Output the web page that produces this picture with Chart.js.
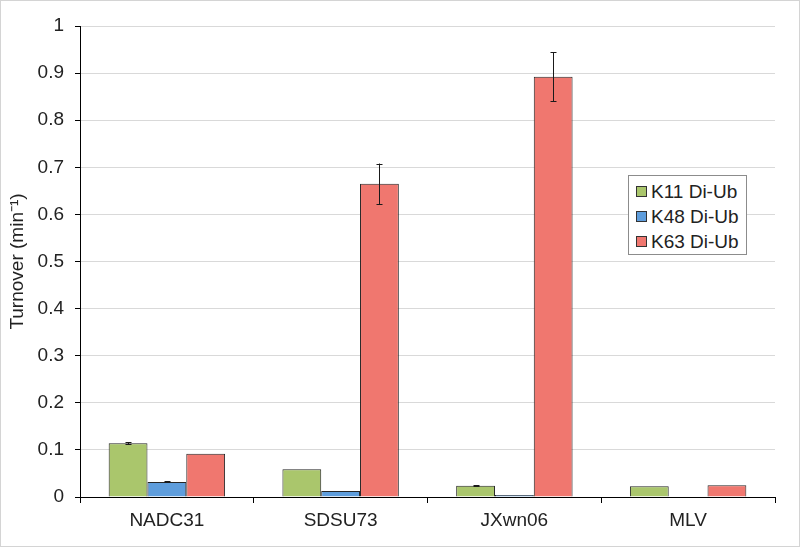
<!DOCTYPE html>
<html>
<head>
<meta charset="utf-8">
<script src="https://cdn.jsdelivr.net/npm/chart.js@4.4.1/dist/chart.umd.min.js"></script>
<style>
  html, body { margin: 0; padding: 0; background: #fff; }
  #wrap { position: relative; width: 800px; height: 547px; }
  #frame { position: absolute; left: 0; top: 0; width: 800px; height: 547px; box-sizing: border-box; border: 1px solid #d4d4d4; pointer-events: none; }
  #legend { position: absolute; left: 628px; top: 175px; width: 119px; height: 80px; box-sizing: border-box; border: 1px solid #8c8c8c; background: #fff; font-family: "Liberation Sans", Arial, sans-serif; font-size: 19px; color: #222; padding-top: 3px; }
  .item { display: flex; align-items: center; height: 25px; padding-left: 7px; }
  .sw { width: 9px; height: 9px; border: 1px solid #333; margin-right: 4px; }
</style>
</head>
<body>
<div id="wrap">
  <canvas id="c" width="800" height="547"></canvas>
  <div id="legend"></div>
  <div id="frame"></div>
</div>
<script>
const categories = ["NADC31", "SDSU73", "JXwn06", "MLV"];
const seriesNames = ["K11 Di-Ub", "K48 Di-Ub", "K63 Di-Ub"];
const k11 = [0.114, 0.059, 0.024, 0.023];
const k48 = [0.032, 0.013, 0.004, 0];
const k63 = [0.092, 0.665, 0.892, 0.025];
const k11Err = [0.002, 0, 0.001, 0];
const k48Err = [0.001, 0, 0, 0];
const k63Err = [0, 0.043, 0.052, 0];
const yTicks = [0, 0.1, 0.2, 0.3, 0.4, 0.5, 0.6, 0.7, 0.8, 0.9, 1];

const colors = ["#aac66c", "#5e9ddc", "#f0776f"];
const values = [k11, k48, k63];
const errors = [k11Err, k48Err, k63Err];

const errorBarPlugin = {
  id: "errorBars",
  afterDatasetsDraw(chart) {
    const ctx = chart.ctx;
    const y = chart.scales.y;
    ctx.save();
    ctx.strokeStyle = "#1a1a1a";
    ctx.lineWidth = 1;
    chart.data.datasets.forEach((ds, di) => {
      const meta = chart.getDatasetMeta(di);
      meta.data.forEach((bar, i) => {
        const e = errors[di][i];
        if (!e) return;
        const v = ds.data[i];
        const x = Math.round(bar.x) + 0.5;
        const yTop = y.getPixelForValue(v + e);
        const yBot = y.getPixelForValue(v - e);
        ctx.beginPath();
        ctx.moveTo(x, yTop); ctx.lineTo(x, yBot);
        ctx.moveTo(x - 3, Math.round(yTop) + 0.5); ctx.lineTo(x + 3, Math.round(yTop) + 0.5);
        ctx.moveTo(x - 3, Math.round(yBot) + 0.5); ctx.lineTo(x + 3, Math.round(yBot) + 0.5);
        ctx.stroke();
      });
    });
    ctx.restore();
  }
};

const font = { family: "'Liberation Sans', Arial, sans-serif", size: 19 };

new Chart(document.getElementById("c"), {
  type: "bar",
  data: {
    labels: categories,
    datasets: seriesNames.map((n, i) => ({
      label: n,
      data: values[i],
      backgroundColor: colors[i],
      borderColor: "#262626",
      borderWidth: 1,
      categoryPercentage: 0.67,
      barPercentage: 1.0
    }))
  },
  options: {
    responsive: false,
    animation: false,
    layout: { padding: { left: 0, right: 25, top: 26, bottom: 0 } },
    plugins: { legend: { display: false }, tooltip: { enabled: false } },
    scales: {
      x: {
        grid: { offset: true, drawOnChartArea: false, drawTicks: true, tickLength: 6, color: "#000", tickColor: "#000" },
        border: { color: "#000", width: 1 },
        ticks: { font: font, color: "#222", padding: 6 },
        afterFit(s) { s.height = 50; }
      },
      y: {
        min: 0, max: 1,
        afterBuildTicks(s) { s.ticks = yTicks.map(v => ({ value: v })); },
        grid: { color: "#d9d9d9", tickColor: "#000", tickLength: 5, lineWidth: 1 },
        border: { color: "#000", width: 1 },
        ticks: { font: font, color: "#222", padding: 11, callback: v => String(v) },
        title: { display: true, text: "Turnover (min⁻¹)", font: font, color: "#222", padding: { top: 6, bottom: 0 } },
        afterFit(s) { s.width = 80; }
      }
    }
  },
  plugins: [errorBarPlugin]
});

const leg = document.getElementById("legend");
seriesNames.forEach((n, i) => {
  const d = document.createElement("div");
  d.className = "item";
  d.innerHTML = '<span class="sw" style="background:' + colors[i] + '"></span><span>' + n + '</span>';
  leg.appendChild(d);
});
</script>
</body>
</html>
